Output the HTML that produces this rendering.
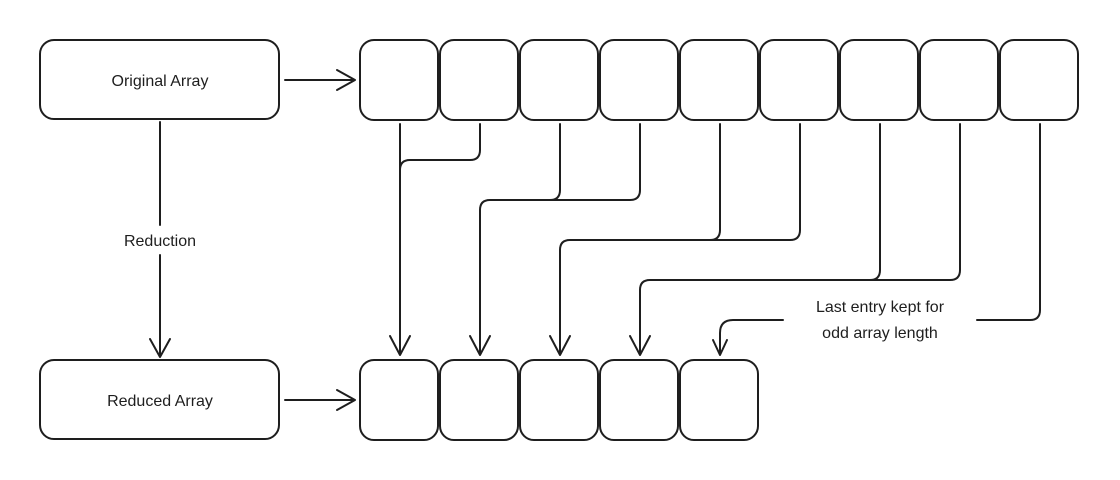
<!DOCTYPE html>
<html><head><meta charset="utf-8"><style>
html,body{margin:0;padding:0;background:#fff;width:1120px;height:480px;overflow:hidden}
text{font-family:"Liberation Sans",sans-serif;font-size:16px;fill:#1e1e1e}
</style></head><body>
<svg width="1120" height="480" viewBox="0 0 1120 480" xmlns="http://www.w3.org/2000/svg">
<g fill="none" stroke="#1e1e1e" stroke-width="2" stroke-linecap="round" stroke-linejoin="round">
<rect x="40" y="40" width="239" height="79" rx="14"/>
<rect x="40" y="360" width="239" height="79" rx="14"/>
<rect x="360" y="40" width="78" height="80" rx="14"/>
<rect x="440" y="40" width="78" height="80" rx="14"/>
<rect x="520" y="40" width="78" height="80" rx="14"/>
<rect x="600" y="40" width="78" height="80" rx="14"/>
<rect x="680" y="40" width="78" height="80" rx="14"/>
<rect x="760" y="40" width="78" height="80" rx="14"/>
<rect x="840" y="40" width="78" height="80" rx="14"/>
<rect x="920" y="40" width="78" height="80" rx="14"/>
<rect x="1000" y="40" width="78" height="80" rx="14"/>
<rect x="360" y="360" width="78" height="80" rx="14"/>
<rect x="440" y="360" width="78" height="80" rx="14"/>
<rect x="520" y="360" width="78" height="80" rx="14"/>
<rect x="600" y="360" width="78" height="80" rx="14"/>
<rect x="680" y="360" width="78" height="80" rx="14"/>
<!-- horizontal arrows -->
<path d="M285 80 H355 M337 70 L355 80 L337 90"/>
<path d="M285 400 H355 M337 390 L355 400 L337 410"/>
<!-- reduction -->
<path d="M160 122 V225 M160 255 V357 M150 339 L160 357 L170 339"/>
<!-- connectors -->
<path d="M400 124 V355 M390 336 L400 355 L410 336"/>
<path d="M480 124 V150 Q480 160 470 160 H410 Q400 160 400 170"/>
<path d="M560 124 V190 Q560 200 550 200 H490 Q480 200 480 210 V355 M470 336 L480 355 L490 336"/>
<path d="M640 124 V190 Q640 200 630 200 H550"/>
<path d="M720 124 V230 Q720 240 710 240 H570 Q560 240 560 250 V355 M550 336 L560 355 L570 336"/>
<path d="M800 124 V230 Q800 240 790 240 H710"/>
<path d="M880 124 V270 Q880 280 870 280 H650 Q640 280 640 290 V355 M630 336 L640 355 L650 336"/>
<path d="M960 124 V270 Q960 280 950 280 H870"/>
<path d="M1040 124 V310 Q1040 320 1030 320 H977"/>
<path d="M783 320 H733 Q720 320 720 333 V355 M713 340 L720 355 L727 340"/>
</g>
<text x="160" y="86" text-anchor="middle">Original Array</text>
<text x="160" y="406" text-anchor="middle">Reduced Array</text>
<text x="160" y="246" text-anchor="middle">Reduction</text>
<text x="880" y="312" text-anchor="middle">Last entry kept for</text>
<text x="880" y="338" text-anchor="middle">odd array length</text>
</svg>
</body></html>
